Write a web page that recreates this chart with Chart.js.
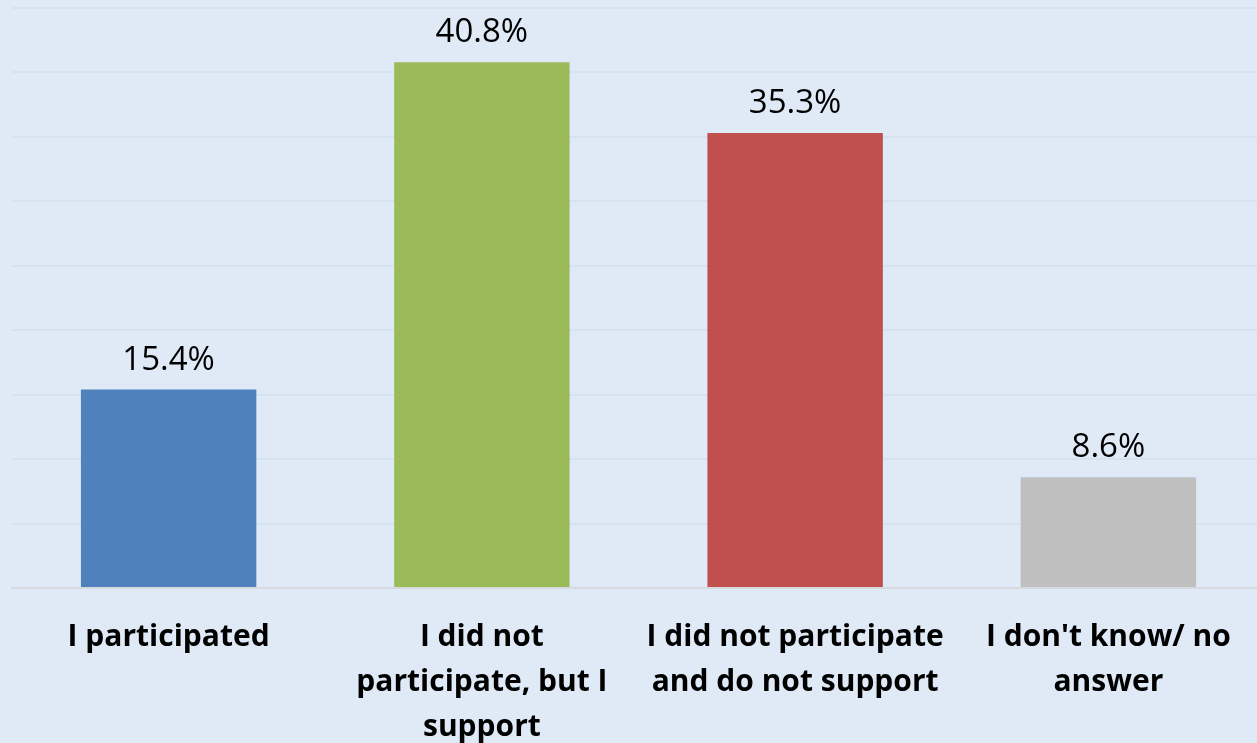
<!DOCTYPE html>
<html lang="en">
<head>
  <meta charset="UTF-8" />
  <title>Participation</title>
  <style>
    html, body {
      margin: 0;
      padding: 0;
      background: #dfeaf6;
      overflow: hidden;
    }
    #chart-container {
      width: 1265px;
      height: 769px;
    }
  </style>
</head>
<body>
  <div id="chart-container">
    <canvas id="barChart"></canvas>
  </div>

  <script src="https://cdn.jsdelivr.net/npm/chart.js"></script>
  <script>
    const categories = [
      'I participated',
      ['I did not', 'participate, but I', 'support'],
      ['I did not participate', 'and do not support'],
      ["I don't know/ no", 'answer']
    ];
    const shares = [15.4, 40.8, 35.3, 8.6];
    const barColors = ['#4f81bd', '#9bbb59', '#c0504d', '#bfbfbf'];

    // draws the percentage above each bar
    const valueLabels = {
      id: 'valueLabels',
      afterDatasetsDraw(chart) {
        const c = chart.ctx;
        const meta = chart.getDatasetMeta(0);
        c.save();
        c.font = '33px "Open Sans", sans-serif';
        c.fillStyle = '#000';
        c.textAlign = 'center';
        c.textBaseline = 'alphabetic';
        meta.data.forEach((bar, i) => {
          c.fillText(shares[i].toFixed(1) + '%', bar.x, bar.y - 20);
        });
        c.restore();
      }
    };

    new Chart(document.getElementById('barChart'), {
      type: 'bar',
      data: {
        labels: categories,
        datasets: [{
          data: shares,
          backgroundColor: barColors,
          borderWidth: 0,
          categoryPercentage: 1,
          barPercentage: 0.56
        }]
      },
      options: {
        responsive: true,
        maintainAspectRatio: false,
        animation: false,
        layout: { padding: { left: 12, top: 8, right: 0, bottom: 0 } },
        plugins: {
          legend: { display: false },
          tooltip: { enabled: false }
        },
        scales: {
          x: {
            grid: { display: false },
            border: { color: '#d6d9dd', width: 2 },
            ticks: {
              color: '#000',
              padding: 19,
              maxRotation: 0,
              autoSkip: false,
              font: { family: '"Open Sans", sans-serif', size: 30, weight: 'bold', lineHeight: 1.5 }
            }
          },
          y: {
            min: 0,
            max: 45,
            ticks: { display: false, stepSize: 5 },
            grid: { color: '#d6e2ee', lineWidth: 2, drawTicks: false },
            border: { display: false }
          }
        }
      },
      plugins: [valueLabels]
    });
  </script>
</body>
</html>
